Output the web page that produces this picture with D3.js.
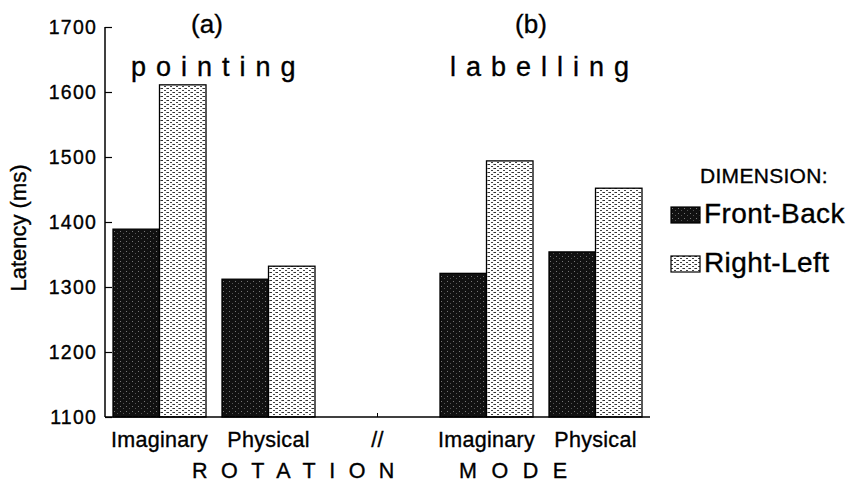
<!DOCTYPE html>
<html>
<head>
<meta charset="utf-8">
<script src="https://cdn.jsdelivr.net/npm/d3@7"></script>
<style>
  html, body { margin: 0; padding: 0; background: #fff; }
  svg { display: block; font-family: 'Liberation Sans', Arial, Helvetica, sans-serif; }
  svg text { fill: #000; stroke: #000; stroke-width: 0.35px; }
</style>
</head>
<body>
<div id="chart"></div>
<script>
'use strict';

// data
let tasks = ['pointing', 'labelling'],
    panels = ['(a)', '(b)'],
    modes = ['Imaginary', 'Physical'],
    dimensions = ['Front-Back', 'Right-Left'],
    frontBack = [1389, 1312, 1321, 1354],
    rightLeft = [1611, 1332, 1494, 1452],
    yTicks = [1100, 1200, 1300, 1400, 1500, 1600, 1700];

let width = 863,
    height = 482,
    margin = { top: 27, right: 213, bottom: 65, left: 105 };

let svg = d3.select('#chart').append('svg')
    .attr('width', width)
    .attr('height', height);

// halftone-ish fills like the scanned print
let defs = svg.append('defs');

let dark = defs.append('pattern')
    .attr('id', 'darkFill')
    .attr('patternUnits', 'userSpaceOnUse')
    .attr('width', 6)
    .attr('height', 5);
dark.append('rect').attr('width', 6).attr('height', 5).attr('fill', '#111');
dark.append('rect').attr('x', 1).attr('y', 1).attr('width', 1).attr('height', 1).attr('fill', '#777');
dark.append('rect').attr('x', 4).attr('y', 3).attr('width', 1).attr('height', 1).attr('fill', '#555');

let light = defs.append('pattern')
    .attr('id', 'lightFill')
    .attr('patternUnits', 'userSpaceOnUse')
    .attr('width', 6)
    .attr('height', 4);
light.append('rect').attr('width', 6).attr('height', 4).attr('fill', '#fff');
light.append('rect').attr('x', 0).attr('y', 0).attr('width', 2).attr('height', 1).attr('fill', '#333');
light.append('rect').attr('x', 3).attr('y', 2).attr('width', 2).attr('height', 1).attr('fill', '#444');
light.append('rect').attr('x', 5).attr('y', 0).attr('width', 1).attr('height', 1).attr('fill', '#888');

// one band per cluster, with an empty band for the "//" break
let groups = [];
tasks.forEach(function(t, i) {
    modes.forEach(function(m, j) {
        groups.push({ task: t, mode: m, fb: frontBack[i * 2 + j], rl: rightLeft[i * 2 + j], key: t + '|' + m });
    });
});
let domain = [groups[0].key, groups[1].key, 'gap', groups[2].key, groups[3].key];

let x = d3.scaleBand()
    .domain(domain)
    .range([margin.left, width - margin.right]);

let y = d3.scaleLinear()
    .domain([1100, 1700])
    .range([height - margin.bottom, margin.top]);

let sub = d3.scaleBand()
    .domain(dimensions)
    .range([0, 93]);

let fills = { 'Front-Back': 'url(#darkFill)', 'Right-Left': 'url(#lightFill)' };

// bars
let clusters = svg.append('g').selectAll('.cluster')
    .data(groups)
    .enter()
    .append('g')
    .attr('class', 'cluster')
    .attr('transform', function(d) { return 'translate(' + (x(d.key) + x.bandwidth() / 2 - 46.5) + ',0)'; });

clusters.selectAll('rect')
    .data(function(d) { return [{ dim: 'Front-Back', v: d.fb }, { dim: 'Right-Left', v: d.rl }]; })
    .enter()
    .append('rect')
    .attr('x', function(d) { return sub(d.dim); })
    .attr('y', function(d) { return y(d.v); })
    .attr('width', sub.bandwidth())
    .attr('height', function(d) { return y(1100) - y(d.v); })
    .attr('fill', function(d) { return fills[d.dim]; })
    .attr('stroke', '#000')
    .attr('stroke-width', 1.3);

// y axis, ticks pointing inward
let yAxis = svg.append('g')
    .attr('transform', 'translate(' + margin.left + ',0)')
    .call(d3.axisRight(y).tickValues(yTicks).tickSize(7).tickFormat(''));
yAxis.select('.domain').attr('stroke', '#000').attr('stroke-width', 1.5).attr('d', 'M0,' + y(1700) + 'V' + y(1100));
yAxis.selectAll('.tick line').attr('stroke', '#000').attr('stroke-width', 1.2);

svg.append('g').selectAll('.ylab')
    .data(yTicks)
    .enter()
    .append('text')
    .attr('class', 'ylab')
    .attr('x', 97)
    .attr('y', function(d) { return y(d) + 7; })
    .attr('text-anchor', 'end')
    .attr('font-size', 19.5)
    .attr('letter-spacing', 1.2)
    .text(function(d) { return d; });

// x axis
let xAxis = svg.append('g')
    .attr('transform', 'translate(0,' + y(1100) + ')')
    .call(d3.axisTop(x).tickSize(4).tickFormat(''));
xAxis.select('.domain').attr('stroke', '#000').attr('stroke-width', 1.5).attr('d', 'M' + margin.left + ',0H' + (width - margin.right));
xAxis.selectAll('.tick line').attr('stroke', '#000').attr('stroke-width', 1);

svg.append('g').selectAll('.xlab')
    .data(domain)
    .enter()
    .append('text')
    .attr('class', 'xlab')
    .attr('x', function(d) { return x(d) + x.bandwidth() / 2; })
    .attr('y', 447)
    .attr('text-anchor', 'middle')
    .attr('font-size', 21.5)
    .attr('letter-spacing', 0.3)
    .text(function(d) { return d === 'gap' ? '//' : d.split('|')[1]; });

svg.append('text')
    .attr('x', 192)
    .attr('y', 478)
    .attr('font-size', 21.5)
    .attr('letter-spacing', 13.5)
    .text('ROTATION');

svg.append('text')
    .attr('x', 459)
    .attr('y', 478)
    .attr('font-size', 21.5)
    .attr('letter-spacing', 14.5)
    .text('MODE');

// y title
svg.append('text')
    .attr('transform', 'translate(26,228) rotate(-90)')
    .attr('text-anchor', 'middle')
    .attr('font-size', 22)
    .text('Latency (ms)');

// panel headings
let headCenters = [207, 531];
svg.append('g').selectAll('.panel')
    .data(panels)
    .enter()
    .append('text')
    .attr('x', function(d, i) { return headCenters[i]; })
    .attr('y', 33)
    .attr('text-anchor', 'middle')
    .attr('font-size', 26)
    .text(function(d) { return d; });

let taskStarts = [131, 450];
svg.append('g').selectAll('.task')
    .data(tasks)
    .enter()
    .append('text')
    .attr('x', function(d, i) { return taskStarts[i]; })
    .attr('y', 76)
    .attr('font-size', 27)
    .attr('letter-spacing', 10)
    .text(function(d) { return d; });

// legend
svg.append('text')
    .attr('x', 700)
    .attr('y', 183)
    .attr('font-size', 21)
    .attr('letter-spacing', 0.3)
    .text('DIMENSION:');

let legend = svg.append('g').selectAll('.legend')
    .data(dimensions)
    .enter()
    .append('g')
    .attr('class', 'legend')
    .attr('transform', function(d, i) { return 'translate(671,' + (207 + i * 49) + ')'; });

legend.append('rect')
    .attr('width', 29)
    .attr('height', 16)
    .attr('fill', function(d) { return fills[d]; })
    .attr('stroke', '#000')
    .attr('stroke-width', 1.2);

legend.append('text')
    .attr('x', 33)
    .attr('y', 16)
    .attr('font-size', 28)
    .attr('letter-spacing', 0.4)
    .text(function(d) { return d; });
</script>
</body>
</html>
